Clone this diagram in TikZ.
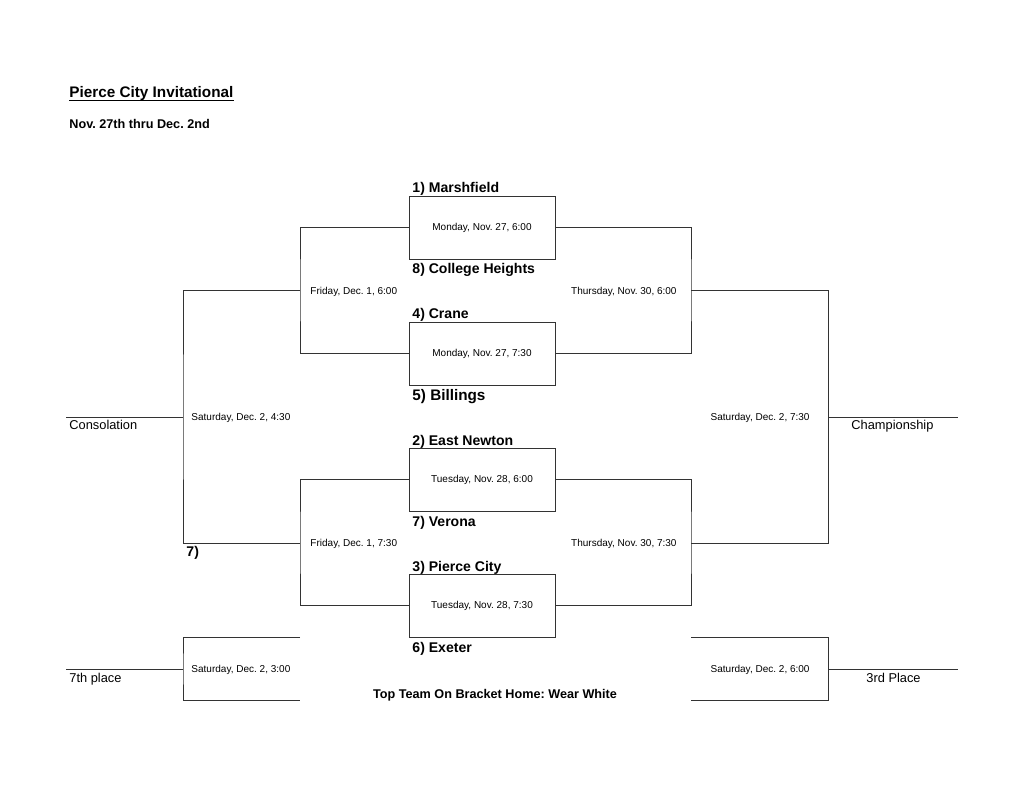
\documentclass[tikz,border=0pt]{standalone}
\usepackage{fontspec}
\setmainfont{Liberation Sans}
\usetikzlibrary{positioning}
\frenchspacing

\newcommand{\teamfont}{\fontsize{8}{9.6}\selectfont\bfseries}
\newcommand{\datefont}{\fontsize{5.7}{6.8}\selectfont}
\newcommand{\placefont}{\fontsize{7.3}{8.8}\selectfont}

\begin{document}
\begin{tikzpicture}[x=0.02cm, y=-0.02cm, line width=0.5pt, draw=black!80,
    game/.style={draw, rectangle, minimum width=2.92cm, minimum height=1.26cm,
                 inner sep=0pt, font=\datefont},
    team/.style={anchor=base west, inner sep=0pt, font=\teamfont},
    when/.style={inner sep=0pt, font=\datefont},
    place/.style={anchor=base west, inner sep=0pt, font=\placefont}]
    \useasboundingbox (0,0) rectangle (1024,794);

    % Heading
    \node (title) [anchor=base west, inner sep=0pt, font=\fontsize{8.7}{10}\selectfont\bfseries]
        at (69,98) {Pierce City Invitational};
    \draw[line width=0.6pt, black] ([yshift=-1.3pt]title.base west) -- ([yshift=-1.3pt]title.base east);
    \node (dates) [anchor=base west, inner sep=0pt, font=\fontsize{7.2}{8.6}\selectfont\bfseries]
        at (69,129) {Nov. 27th thru Dec. 2nd};

    % First round games
    \node (g1) [game] at (482,227.5) {Monday, Nov. 27, 6:00};
    \node (g2) [game] at (482,353.5) {Monday, Nov. 27, 7:30};
    \node (g3) [game] at (482,479.5) {Tuesday, Nov. 28, 6:00};
    \node (g4) [game] at (482,605.5) {Tuesday, Nov. 28, 7:30};

    % Teams
    \node (t1) [team] at (412,192) {1) Marshfield};
    \node (t8) [team] at (412,273) {8) College Heights};
    \node (t4) [team] at (412,318) {4) Crane};
    \node (t5) [team, font=\fontsize{8.7}{10}\selectfont\bfseries] at (412,400) {5) Billings};
    \node (t2) [team] at (412,445) {2) East Newton};
    \node (t7) [team] at (412,526) {7) Verona};
    \node (t3) [team] at (412,571) {3) Pierce City};
    \node (t6) [team] at (412,652) {6) Exeter};

    % Bracket joints
    \coordinate (wl1) at (300,290);
    \coordinate (wl2) at (300,543);
    \coordinate (wr1) at (691,290);
    \coordinate (wr2) at (691,543);
    \coordinate (cons) at (183,417);
    \coordinate (consend) at (66,417);
    \coordinate (champ) at (828,417);
    \coordinate (champend) at (958,417);
    \coordinate (sa) at (300,637);
    \coordinate (sb) at (300,700);
    \coordinate (sev) at (183,669);
    \coordinate (sevend) at (66,669);
    \coordinate (ta) at (691,637);
    \coordinate (tb) at (691,700);
    \coordinate (thr) at (828,669);
    \coordinate (thrend) at (958,669);

    % Second round
    \draw (g1.west) -| (wl1) |- (g2.west);
    \draw (g3.west) -| (wl2) |- (g4.west);
    \draw (g1.east) -| (wr1) |- (g2.east);
    \draw (g3.east) -| (wr2) |- (g4.east);

    % Finals
    \draw (wl1) -| (cons) |- (wl2);
    \draw (cons) -- (consend);
    \draw (wr1) -| (champ) |- (wr2);
    \draw (champ) -- (champend);
    \draw (sa) -| (sev) |- (sb);
    \draw (sev) -- (sevend);
    \draw (ta) -| (thr) |- (tb);
    \draw (thr) -- (thrend);

    % Game times
    \node (f1) [when, anchor=base west] at (310,294) {Friday, Dec. 1, 6:00};
    \node (f2) [when, anchor=base west] at (310,546) {Friday, Dec. 1, 7:30};
    \node (h1) [when, anchor=base east] at (677,294) {Thursday, Nov. 30, 6:00};
    \node (h2) [when, anchor=base east] at (677,546) {Thursday, Nov. 30, 7:30};
    \node (s1) [when, anchor=base west] at (191,420) {Saturday, Dec. 2, 4:30};
    \node (s2) [when, anchor=base east] at (810,420) {Saturday, Dec. 2, 7:30};
    \node (s3) [when, anchor=base west] at (191,672) {Saturday, Dec. 2, 3:00};
    \node (s4) [when, anchor=base east] at (810,672) {Saturday, Dec. 2, 6:00};

    % Places
    \node (pcons) [place] at (69,429) {Consolation};
    \node (pchamp) [place] at (851,429) {Championship};
    \node (psev) [place] at (69,682) {7th place};
    \node (pthr) [place] at (866,682) {3rd Place};
    \node (seed7) [team] at (186,556) {7)};

    % Note
    \node (note) [anchor=base, inner sep=0pt, font=\fontsize{7.2}{8.6}\selectfont\bfseries]
        at (495,698) {Top Team On Bracket Home: Wear White};
\end{tikzpicture}
\end{document}
